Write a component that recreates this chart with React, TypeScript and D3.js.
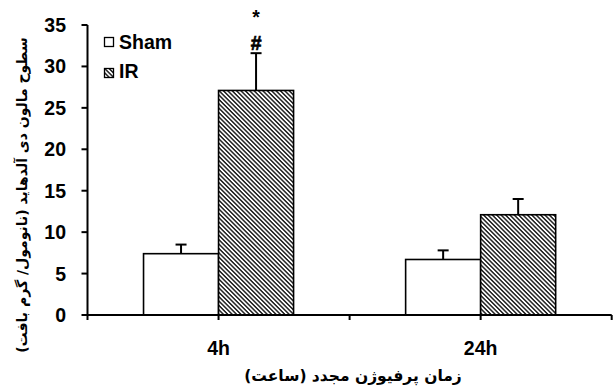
import React from "react";
import * as d3 from "d3";

const categories = ["4h", "24h"];
const seriesNames = ["Sham", "IR"];
const shamValues = [7.4, 6.7];
const shamErrors = [1.1, 1.1];
const irValues = [27.1, 12.1];
const irErrors = [4.5, 1.9];
const yTicks = [0, 5, 10, 15, 20, 25, 30, 35];
const yTitle = "سطوح مالون دی آلدهاید (نانومول/ گرم بافت)";
const xTitle = "زمان پرفیوژن مجدد (ساعت)";
const sigMarks = ["*", "#"];

const W = 616;
const H = 388;
const left = 87.5;
const right = 611.7;
const top = 25;
const bottom = 315;

const FONT = "'Liberation Sans', Arial, sans-serif";
const FA_FONT = "'DejaVu Sans', 'Liberation Sans', sans-serif";
const FS = 19.5;

export default function App() {
  const x = d3.scaleBand<string>().domain(categories).range([left, right]).paddingInner(0).paddingOuter(0);
  const xs = d3
    .scaleBand<string>()
    .domain(seriesNames)
    .range([0, x.bandwidth()])
    .paddingInner(0)
    .paddingOuter(0.747);
  const y = d3.scaleLinear().domain([0, 35]).range([bottom, top]);

  const series = [
    { name: "Sham", values: shamValues, errors: shamErrors, fill: "#ffffff" },
    { name: "IR", values: irValues, errors: irErrors, fill: "url(#hatch)" },
  ];

  const xTickPositions: number[] = [];
  categories.forEach((c) => {
    xTickPositions.push(x(c)!);
    xTickPositions.push(x(c)! + x.bandwidth() / 2);
  });
  xTickPositions.push(right);

  const irX = x("4h")! + xs("IR")! + xs.bandwidth() / 2;

  return (
    <svg width={W} height={H} style={{ position: "absolute", left: 0, top: 0, background: "#fff" }}>
      <defs>
        <pattern id="hatch" patternUnits="userSpaceOnUse" width={3.1} height={3.1} patternTransform="rotate(-45)">
          <rect width={3.1} height={3.1} fill="#fff" />
          <line x1={0.8} y1={0} x2={0.8} y2={3.1} stroke="#000" strokeWidth={1.3} />
        </pattern>
      </defs>

      {/* bars */}
      {series.map((s) =>
        categories.map((c, i) => {
          const bx = x(c)! + xs(s.name)!;
          const bw = xs.bandwidth();
          const yv = y(s.values[i]);
          const ye = y(s.values[i] + s.errors[i]);
          const cx = bx + bw / 2;
          return (
            <g key={s.name + c}>
              <line x1={cx} x2={cx} y1={yv} y2={ye} stroke="#000" strokeWidth={2} />
              <line x1={cx - 5.5} x2={cx + 5.5} y1={ye} y2={ye} stroke="#000" strokeWidth={2} />
              <rect x={bx} y={yv} width={bw} height={bottom - yv} fill={s.fill} stroke="#000" strokeWidth={1.6} />
            </g>
          );
        })
      )}

      {/* axes */}
      <line x1={left} x2={left} y1={top} y2={bottom} stroke="#000" strokeWidth={2} />
      <line x1={left} x2={right} y1={bottom} y2={bottom} stroke="#000" strokeWidth={2} />
      {yTicks.map((t) => (
        <g key={t}>
          <line x1={left - 6} x2={left} y1={y(t)} y2={y(t)} stroke="#000" strokeWidth={2} />
          <text x={66} y={y(t)} dy="0.36em" textAnchor="end" fontFamily={FONT} fontWeight="bold" fontSize={FS}>
            {t}
          </text>
        </g>
      ))}
      {xTickPositions.map((p, i) => (
        <line key={i} x1={p} x2={p} y1={bottom} y2={bottom + 5} stroke="#000" strokeWidth={2} />
      ))}
      {categories.map((c) => (
        <text key={c} x={x(c)! + x.bandwidth() / 2} y={355} textAnchor="middle" fontFamily={FONT} fontWeight="bold" fontSize={FS}>
          {c}
        </text>
      ))}

      {/* significance marks */}
      <text x={irX} y={24} textAnchor="middle" fontFamily={FONT} fontWeight="bold" fontSize={FS}>
        {sigMarks[0]}
      </text>
      <text x={irX} y={50} textAnchor="middle" fontFamily={FONT} fontWeight="bold" fontSize={FS} stroke="#000" strokeWidth={0.6}>
        {sigMarks[1]}
      </text>

      {/* legend */}
      <rect x={104.5} y={37.5} width={9} height={9} fill="#fff" stroke="#000" strokeWidth={1.3} />
      <text x={119} y={49} fontFamily={FONT} fontWeight="bold" fontSize={FS}>
        {seriesNames[0]}
      </text>
      <rect x={104.5} y={68.5} width={9} height={9} fill="url(#hatch)" stroke="#000" strokeWidth={1.3} />
      <text x={119} y={78} fontFamily={FONT} fontWeight="bold" fontSize={FS}>
        {seriesNames[1]}
      </text>

      {/* titles */}
      <text
        transform={`translate(23, 195) rotate(-90)`}
        textAnchor="middle"
        dominantBaseline="middle"
        fontFamily={FA_FONT}
        fontWeight="bold"
        fontSize={14}
        direction="rtl"
      >
        {yTitle}
      </text>
      <text x={353} y={381} textAnchor="middle" fontFamily={FA_FONT} fontWeight="bold" fontSize={15.5} direction="rtl">
        {xTitle}
      </text>
    </svg>
  );
}
